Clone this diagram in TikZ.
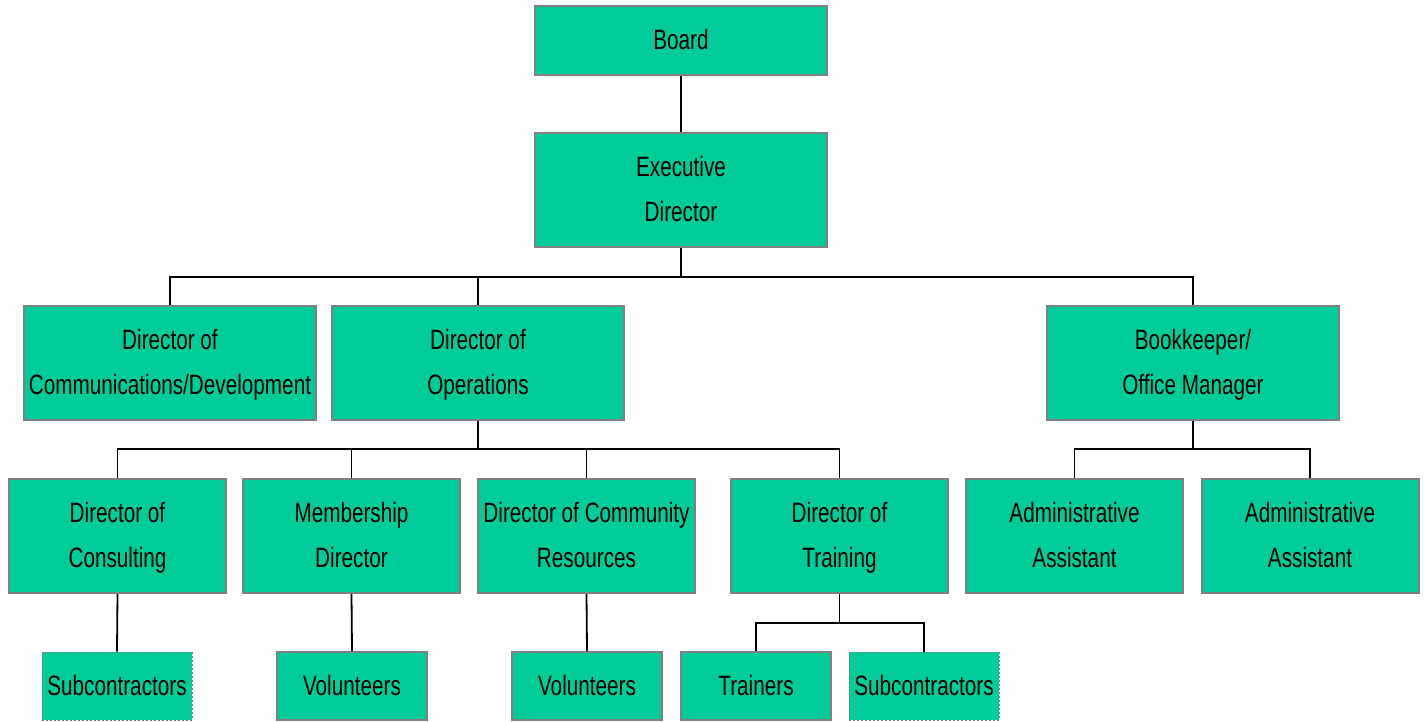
\documentclass[tikz,border=0pt]{standalone}
\usepackage{fontspec}
\setmainfont[FakeStretch=0.74]{Liberation Sans}
\definecolor{boxfill}{RGB}{0,204,153}
\definecolor{boxline}{RGB}{128,128,128}
\newcommand{\ostrut}{\rule[-13.5pt]{0pt}{45pt}}
\begin{document}
\begin{tikzpicture}[x=1pt,y=-1pt,
  orgbox/.style={draw=boxline, line width=2pt, fill=boxfill, inner sep=0pt,
    align=center, font=\fontsize{28}{45}\selectfont},
  bigbox/.style={orgbox, minimum width=292pt, minimum height=114pt},
  midbox/.style={orgbox, minimum width=217pt, minimum height=114pt},
  smallbox/.style={orgbox, minimum width=150pt, minimum height=68pt},
  dotbox/.style={smallbox, dotted, line width=1pt},
  conn/.style={draw=black, line width=1.8pt}]
\useasboundingbox (0,0) rectangle (1426,721);
% top
\node[bigbox, minimum height=69pt] (board) at (681,40.5) {\ostrut Board};
\node[bigbox] (exec) at (681,190) {\ostrut Executive\\\ostrut Director};
% row 2
\node[bigbox] (comm) at (170,363) {\ostrut Director of\\\ostrut Communications/Development};
\node[bigbox] (ops) at (478,363) {\ostrut Director of\\\ostrut Operations};
\node[bigbox] (book) at (1193,363) {\ostrut Bookkeeper/\\\ostrut Office Manager};
% row 3
\node[midbox] (cons) at (117.5,536) {\ostrut Director of\\\ostrut Consulting};
\node[midbox] (memb) at (351.5,536) {\ostrut Membership\\\ostrut Director};
\node[midbox] (cres) at (586.5,536) {\ostrut Director of Community\\\ostrut Resources};
\node[midbox] (train) at (839.5,536) {\ostrut Director of\\\ostrut Training};
\node[midbox] (adm1) at (1074.5,536) {\ostrut Administrative\\\ostrut Assistant};
\node[midbox] (adm2) at (1310,536) {\ostrut Administrative\\\ostrut Assistant};
% row 4
\node[dotbox] (sub1) at (117,686) {\ostrut Subcontractors};
\node[smallbox] (vol1) at (352,686) {\ostrut Volunteers};
\node[smallbox] (vol2) at (587,686) {\ostrut Volunteers};
\node[smallbox] (trn) at (756,686) {\ostrut Trainers};
\node[dotbox] (sub2) at (924,686) {\ostrut Subcontractors};
% connectors
\coordinate (bus1) at (681,277);
\coordinate (bus2) at (478,449);
\coordinate (bus3) at (1193,449);
\coordinate (bus4) at (839.5,623);
\draw[conn] (board.south) -- (exec.north);
\draw[conn] (exec.south) -- (bus1);
\draw[conn] (comm.north) |- (bus1) -| (book.north);
\draw[conn] (ops.north) -- (ops.north |- bus1);
\draw[conn] (ops.south) -- (bus2);
\draw[conn] (cons.north) |- (bus2) -| (train.north);
\draw[conn] (memb.north) -- (memb.north |- bus2);
\draw[conn] (cres.north) -- (cres.north |- bus2);
\draw[conn] (book.south) -- (bus3);
\draw[conn] (adm1.north) |- (bus3) -| (adm2.north);
\draw[conn] (cons.south) -- (sub1.north);
\draw[conn] (memb.south) -- (vol1.north);
\draw[conn] (cres.south) -- (vol2.north);
\draw[conn] (train.south) -- (bus4);
\draw[conn] (trn.north) |- (bus4) -| (sub2.north);
\end{tikzpicture}
\end{document}
